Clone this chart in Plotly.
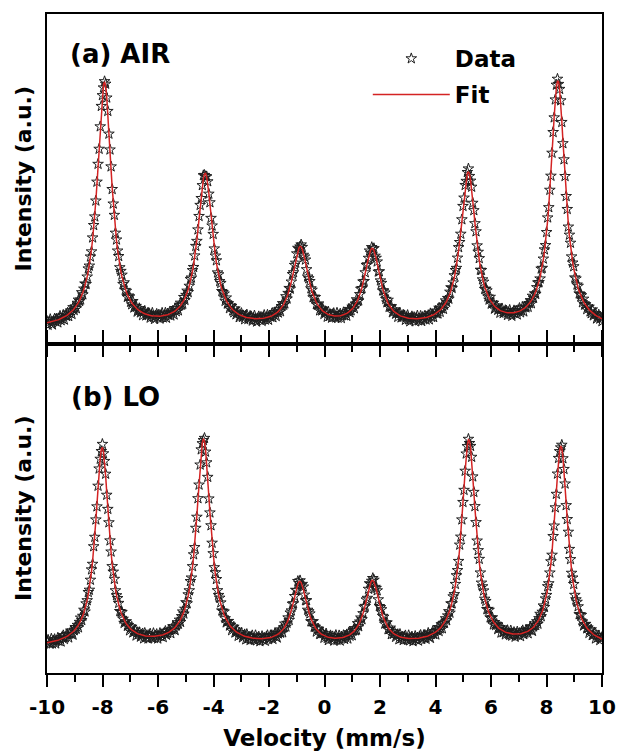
import numpy as np
import plotly.graph_objects as go

# ---------------- data ----------------
x_range = [-10, 10]
x_tick_values = [-10, -8, -6, -4, -2, 0, 2, 4, 6, 8, 10]
x_tick_labels = ["-10", "-8", "-6", "-4", "-2", "0", "2", "4", "6", "8", "10"]
n_channels = 512  # velocity channels of the spectrometer

# (a) AIR sextet: line centres (mm/s), heights (a.u.), half widths (mm/s)
air_centers = [-7.93, -4.30, -0.87, 1.72, 5.18, 8.41]
air_heights = [246, 153, 79, 77, 154, 247]
air_hwhm = [0.32, 0.34, 0.36, 0.36, 0.34, 0.32]
air_baseline = 14

# (b) LO sextet
lo_centers = [-8.01, -4.36, -0.89, 1.73, 5.20, 8.52]
lo_heights = [199, 207, 63, 64, 206, 200]
lo_hwhm = [0.30, 0.31, 0.33, 0.33, 0.31, 0.30]
lo_baseline = 25

# scatter of the measured counts around the fitted curve (a.u.)
residuals = [1.8, -2.4, 0.6, 2.9, -1.2, -3.1, 0.3, 2.2, -0.8, 1.5, -2.7, 0.9,
             3.0, -1.9, -0.4, 2.5, -2.9, 1.1, -0.6, 2.0, -2.2, 0.2, 1.7, -3.0,
             2.7, -1.4, 0.8, -2.5, 1.3, 2.6, -0.9, -1.7, 3.1, -2.0, 0.5, 1.9,
             -2.8, -0.2, 2.4, -1.1, 0.7, -2.6, 1.6, 2.8, -1.5, -0.3, 2.1]

panel_titles = ["(a) AIR", "(b) LO"]
x_title = "Velocity (mm/s)"
y_title = "Intensity (a.u.)"

# ---------------- model ----------------
velocity = np.linspace(x_range[0], x_range[1], n_channels)


def sextet(v, centers, heights, hwhm, base):
    v = np.asarray(v, dtype=float)
    out = np.full_like(v, float(base))
    for c, h, g in zip(centers, heights, hwhm):
        out += h * g ** 2 / ((v - c) ** 2 + g ** 2)
    return out


res = np.array(residuals)
air_fit = sextet(velocity, air_centers, air_heights, air_hwhm, air_baseline)
lo_fit = sextet(velocity, lo_centers, lo_heights, lo_hwhm, lo_baseline)
air_data = air_fit + np.resize(res, n_channels)
lo_data = lo_fit + np.resize(np.roll(res, 19), n_channels)

FONT = "DejaVu Sans"
RED = "#d42323"
STAR = dict(symbol="star-open", size=8, color="#1e1e1e", line=dict(width=1, color="#1e1e1e"))

fig = go.Figure()
fig.add_trace(go.Scatter(x=velocity, y=air_data, mode="markers", marker=STAR,
                         name="Data", legendgroup="d", xaxis="x", yaxis="y"))
fig.add_trace(go.Scatter(x=velocity, y=air_fit, mode="lines", line=dict(color=RED, width=1.5),
                         name="Fit", legendgroup="f", xaxis="x", yaxis="y"))
fig.add_trace(go.Scatter(x=velocity, y=lo_data, mode="markers", marker=STAR,
                         name="Data", showlegend=False, xaxis="x2", yaxis="y2"))
fig.add_trace(go.Scatter(x=velocity, y=lo_fit, mode="lines", line=dict(color=RED, width=1.5),
                         name="Fit", showlegend=False, xaxis="x2", yaxis="y2"))

axis_common = dict(showline=True, linecolor="black", linewidth=2, showgrid=False,
                   zeroline=False, automargin=False)

fig.update_layout(
    width=617, height=751,
    margin=dict(l=47, r=15, t=14, b=78),
    plot_bgcolor="white", paper_bgcolor="white",
    font=dict(family=FONT, color="black"),
    xaxis=dict(**axis_common, domain=[0, 1], anchor="y", range=x_range, mirror=True,
               tickvals=x_tick_values, showticklabels=False,
               ticks="outside", ticklen=11, tickwidth=2, tickcolor="black",
               minor=dict(dtick=1, tick0=-10, ticks="outside", ticklen=6, tickwidth=2, tickcolor="black")),
    yaxis=dict(**axis_common, domain=[0.5, 1], anchor="x", range=[0, 329.5], mirror=True,
               showticklabels=False, ticks="",
               title=dict(text=y_title, font=dict(family=FONT, size=22, weight="bold"), standoff=7)),
    xaxis2=dict(**axis_common, domain=[0, 1], anchor="y2", range=x_range, mirror="ticks",
                tickvals=x_tick_values, ticktext=x_tick_labels, ticklabeloverflow="allow",
                ticks="outside", ticklen=12, tickwidth=2, tickcolor="black", ticklabelstandoff=3,
                tickfont=dict(family=FONT, size=20, weight="bold"),
                minor=dict(dtick=1, tick0=-10, ticks="outside", ticklen=7, tickwidth=2, tickcolor="black"),
                title=dict(text=x_title, font=dict(family=FONT, size=23, weight="bold"), standoff=14)),
    yaxis2=dict(**axis_common, domain=[0, 0.5], anchor="x2", range=[0, 329.5], mirror=True,
                showticklabels=False, ticks="",
                title=dict(text=y_title, font=dict(family=FONT, size=22, weight="bold"), standoff=7)),
    legend=dict(x=0.578, y=0.965, xanchor="left", yanchor="top", bgcolor="rgba(0,0,0,0)",
                font=dict(family=FONT, size=23, weight="bold"), traceorder="grouped",
                tracegroupgap=3, itemwidth=77),
    showlegend=True,
)

fig.add_annotation(text=panel_titles[0], xref="paper", yref="paper", x=0.038, y=0.939,
                   xanchor="left", yanchor="middle", showarrow=False,
                   font=dict(family=FONT, size=26, weight="bold"))
fig.add_annotation(text=panel_titles[1], xref="paper", yref="paper", x=0.04, y=0.419,
                   xanchor="left", yanchor="middle", showarrow=False,
                   font=dict(family=FONT, size=26, weight="bold"))

# remove the default page margin so the 617x751 figure fills the window exactly
fig.write_html("out.html", config={"displayModeBar": False},
               post_script="document.body.style.margin='0px';")
